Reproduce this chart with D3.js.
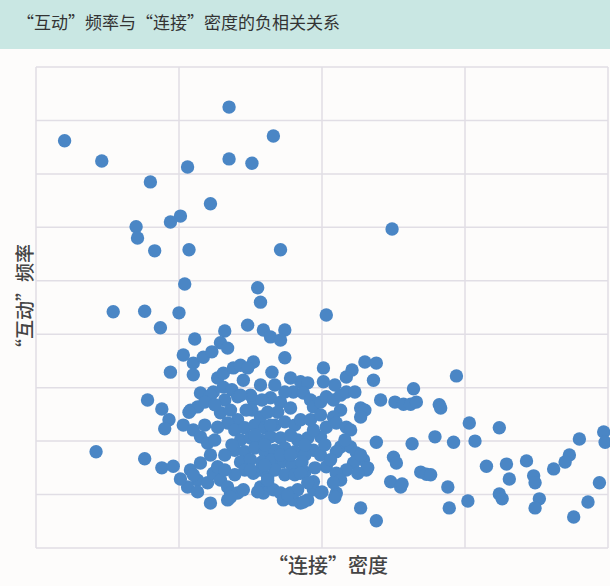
<!DOCTYPE html>
<html><head><meta charset="utf-8">
<script src="https://cdn.jsdelivr.net/npm/d3@7"></script>
<style>
html,body{margin:0;padding:0;background:#fdfcfb;}
svg{display:block;}
</style>
</head><body>
<script>
const title = "“互动”频率与“连接”密度的负相关关系";
const xLabel = "“连接”密度";
const yLabel = "“互动”频率";
const xTicks = [0,1,2,3,4];
const yTicks = [0,1,2,3,4,5,6,7,8,9];

// density (x) values
const density = [
0.20,0.46,1.35,1.66,1.35,1.51,1.06,0.80,1.22,1.01,0.94,0.70,0.71,0.83,1.07,1.71,2.49,1.04,1.55,1.57,
0.54,0.76,1.00,2.03,0.87,1.32,1.48,1.59,1.74,1.11,1.64,1.71,
1.03,1.10,1.17,1.23,1.29,1.34,1.10,0.94,1.52,1.74,1.65,1.57,1.27,1.31,1.38,1.43,1.48,1.45,
1.24,1.31,1.37,1.41,1.32,1.15,1.22,1.08,1.13,1.18,1.03,1.10,1.15,1.20,1.29,1.36,1.41,1.34,1.27,
1.52,1.51,1.57,1.64,1.71,1.78,1.69,1.62,
1.85,1.90,1.80,1.87,1.92,1.94,1.99,2.03,2.08,2.13,2.17,2.23,2.01,2.01,2.17,2.21,2.30,2.38,2.36,2.41,2.51,
2.13,2.08,2.27,2.30,2.27,2.03,2.10,2.17,2.20,1.99,1.90,1.83,1.94,2.38,2.50,2.52,
2.13,2.20,2.24,2.29,2.22,2.31,2.17,2.03,2.10,2.10,1.94,2.48,2.55,2.27,2.38,
1.08,1.15,1.13,1.20,1.06,1.24,1.29,1.34,1.36,1.41,1.45,1.22,1.34,
1.57,1.62,1.59,1.66,1.71,1.73,1.78,1.83,1.80,1.85,1.90,1.94,1.99,1.57,1.62,1.52,
1.39,1.46,1.53,1.60,1.67,1.74,1.81,1.43,1.50,1.57,1.64,1.71,1.78,
1.39,1.46,1.53,1.60,1.67,1.74,1.81,1.88,1.43,1.50,1.58,1.65,1.72,1.79,1.86,
1.46,1.67,1.74,1.81,1.88,1.95,
1.36,1.55,1.62,1.13,1.10,1.27,2.10,2.27,2.32,2.25,2.13,2.08,2.00,1.94,1.85,1.90,1.76,1.87,2.09,
0.78,0.88,0.93,0.90,1.07,0.42,0.76,0.88,0.96,1.01,
2.94,2.64,2.57,2.62,2.66,2.82,2.83,3.03,3.24,2.63,2.79,2.92,3.07,3.97,3.98,3.80,3.73,3.70,3.62,3.43,
3.48,3.49,3.29,3.31,3.15,2.69,2.73,2.76,2.56,2.88,2.89,3.02,3.24,3.26,3.52,3.49,3.76,3.86,3.94,
1.25,1.32,1.37,1.85,1.92,1.88,1.99,2.02,1.50,1.58,1.74,1.47,1.64,1.53,1.60,1.71,1.78,1.50,1.60,1.39,
1.32,1.22,1.18,1.25,1.43,1.67,1.78,2.09,1.99,2.16,2.06
];
// interaction frequency (y) values
const frequency = [
7.62,7.24,8.25,7.71,7.28,7.20,7.13,6.85,6.44,6.21,6.10,6.01,5.80,5.56,5.58,5.58,5.97,4.94,4.87,4.60,
4.42,4.43,4.40,4.36,4.12,4.06,4.17,4.08,4.08,3.91,3.95,3.89,
3.61,3.46,3.57,3.67,3.84,3.74,3.24,3.29,3.48,3.56,3.29,3.05,3.18,3.27,3.37,3.42,3.37,3.14,
2.92,3.01,2.96,2.83,2.77,2.90,2.86,2.58,2.64,2.73,2.30,2.21,2.08,1.96,2.53,2.58,2.40,2.34,2.26,
2.77,2.58,2.45,2.81,2.73,2.62,2.54,2.54,
3.11,3.09,2.92,2.90,2.77,2.64,2.73,2.83,2.77,2.86,2.92,2.92,3.37,3.11,3.20,3.33,3.48,3.46,3.14,2.77,2.73,
2.58,2.45,2.62,2.58,2.45,2.26,2.34,2.26,2.21,2.08,2.06,2.02,2.21,1.98,1.70,1.59,
1.89,1.89,1.78,1.65,1.59,1.46,1.46,1.52,1.40,1.03,1.83,1.24,1.14,0.75,0.51,
1.46,1.59,1.27,1.22,1.14,1.40,1.27,1.14,1.03,1.03,1.09,0.84,0.90,
1.14,1.22,1.03,1.09,1.03,0.90,1.03,1.09,0.90,0.84,0.90,1.09,1.03,1.46,1.33,1.40,
2.21,2.25,2.30,2.25,2.30,2.36,2.30,2.02,2.06,2.02,2.08,2.06,2.11,
1.83,1.80,1.87,1.80,1.83,1.87,1.80,1.74,1.61,1.65,1.61,1.65,1.61,1.55,1.61,
1.46,1.46,1.37,1.37,1.42,1.50,
0.95,1.05,1.27,1.05,1.37,1.52,1.80,1.74,1.50,1.40,1.27,1.22,1.05,1.24,1.40,1.22,0.99,0.86,0.95,
2.77,2.60,2.40,2.23,2.54,1.80,1.67,1.50,1.53,1.29,
3.22,2.98,2.69,2.69,2.73,2.68,2.62,2.34,2.25,1.95,2.08,1.98,2.00,2.17,1.98,2.04,1.74,1.61,1.48,1.63,
1.35,1.22,1.57,1.29,1.53,1.42,1.38,1.37,1.20,1.14,0.75,0.88,1.01,0.92,0.92,0.75,0.58,0.86,1.22,
2.02,1.74,1.93,2.40,2.40,1.93,1.74,1.93,2.86,2.77,2.92,2.58,2.30,2.11,1.93,1.74,1.74,1.46,1.55,1.37,
1.46,1.74,2.30,2.68,2.86,3.05,3.18,3.05,2.49,2.02,1.65
];

const W = 610, H = 586;
const m = {left:36, top:67, right:2, bottom:38};
const svg = d3.select("body").append("svg").attr("width", W).attr("height", H);

// title bar
svg.append("rect").attr("x",0).attr("y",0).attr("width",W).attr("height",49).attr("fill","#c9e7e3");
svg.append("text").attr("x",17).attr("y",29).text(title)
  .attr("font-family","'Noto Sans CJK SC', sans-serif").attr("font-size",17).attr("fill","#333");

const x = d3.scaleLinear().domain([0,4]).range([m.left, W - m.right]);
const y = d3.scaleLinear().domain([0,9]).range([H - m.bottom, m.top]);

const grid = svg.append("g");
grid.selectAll("line.v").data(xTicks).join("line")
  .attr("x1", d=>x(d)).attr("x2", d=>x(d)).attr("y1", y(0)).attr("y2", y(9))
  .attr("stroke","#e1dee5").attr("stroke-width",1.5);
grid.selectAll("line.h").data(yTicks).join("line")
  .attr("y1", d=>y(d)).attr("y2", d=>y(d)).attr("x1", x(0)).attr("x2", x(4))
  .attr("stroke","#e1dee5").attr("stroke-width",1.5);

const pts = density.map((d,i)=>({x:d, y:frequency[i]}));
svg.append("g").selectAll("circle").data(pts).join("circle")
  .attr("cx", d=>x(d.x)).attr("cy", d=>y(d.y)).attr("r", 6.7)
  .attr("fill","#4a86c5");

svg.append("text").attr("x", 328).attr("y", 573).attr("text-anchor","middle")
  .text(xLabel).attr("font-family","'Noto Sans CJK SC', sans-serif").attr("font-size",20)
  .attr("font-weight",500).attr("fill","#444");
svg.append("text").attr("transform","translate(32,301) rotate(-90)").attr("text-anchor","middle")
  .text(yLabel).attr("font-family","'Noto Sans CJK SC', sans-serif").attr("font-size",19)
  .attr("font-weight",500).attr("fill","#444");
</script>
</body></html>
